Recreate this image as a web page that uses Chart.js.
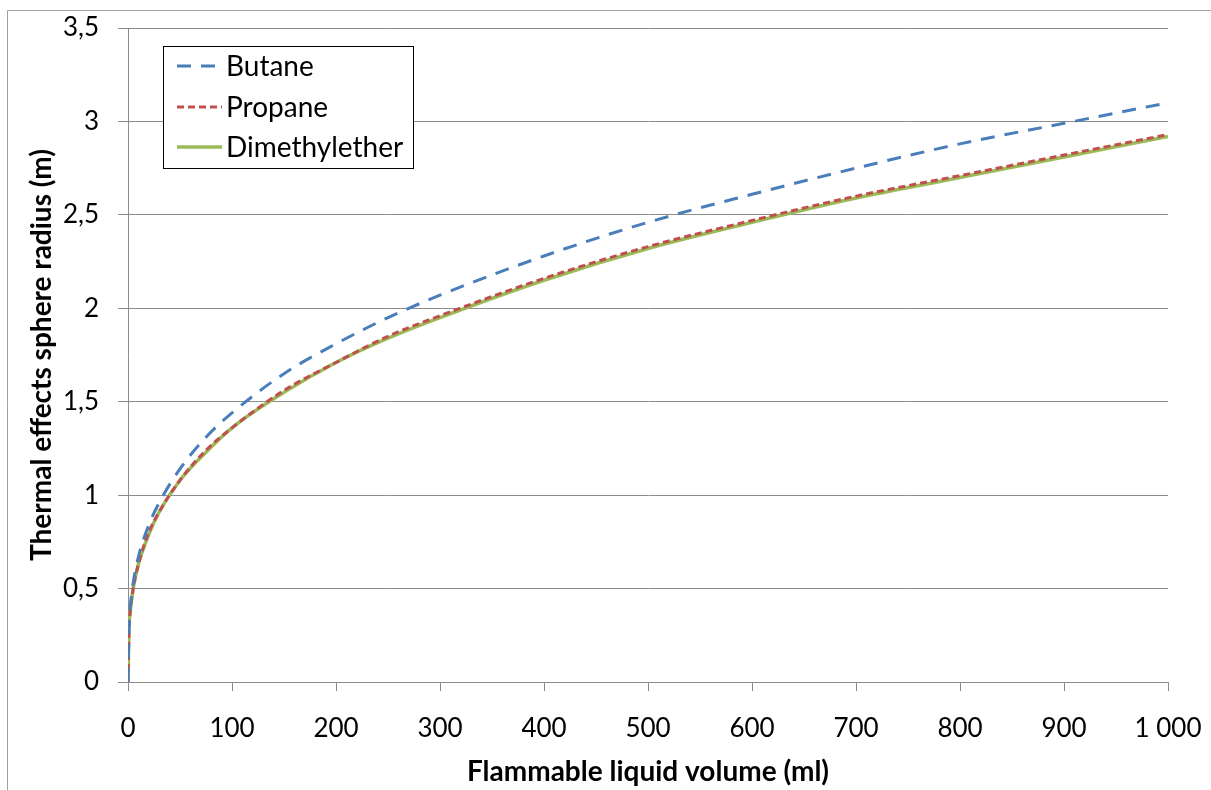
<!DOCTYPE html>
<html>
<head>
<meta charset="utf-8">
<script src="https://cdn.jsdelivr.net/npm/chart.js@4"></script>
<style>
  html, body { margin: 0; padding: 0; background: #fff; }
  #wrap { width: 1211px; height: 790px; }
</style>
</head>
<body>
<div id="wrap"><canvas id="myChart" width="1211" height="790"></canvas></div>
<script>
// volumes (ml) where the curves were read
const volumes = [0, 1, 2, 5, 10, 20, 30, 50, 75, 100, 150, 200, 250, 300, 400, 500, 600, 700, 800, 900, 1000];

// sphere radius (m)
const butane = [0, 0.31, 0.39, 0.53, 0.67, 0.84, 0.96, 1.14, 1.31, 1.44, 1.65, 1.81, 1.95, 2.07, 2.28, 2.46, 2.61, 2.75, 2.88, 2.99, 3.10];
const propane = [0, 0.29, 0.37, 0.50, 0.63, 0.80, 0.91, 1.08, 1.24, 1.36, 1.56, 1.71, 1.85, 1.96, 2.16, 2.33, 2.47, 2.60, 2.71, 2.82, 2.93];
const dimethylether = [0, 0.29, 0.37, 0.50, 0.63, 0.79, 0.91, 1.08, 1.23, 1.36, 1.55, 1.71, 1.84, 1.95, 2.15, 2.32, 2.46, 2.59, 2.70, 2.81, 2.92];

const seriesNames = ['Butane', 'Propane', 'Dimethylether'];
const xTickLabels = ['0', '100', '200', '300', '400', '500', '600', '700', '800', '900', '1 000'];
const yTickLabels = ['0', '0,5', '1', '1,5', '2', '2,5', '3', '3,5'];

const FONT = 'Lato, "DejaVu Sans", sans-serif';
const gridColor = '#8c8c8c';

const toPoints = ys => volumes.map((v, i) => ({ x: v, y: ys[i] }));

// legend box drawn inside the plot, like the original
const boxLegend = {
    id: 'boxLegend',
    afterDraw(chart) {
        const ctx = chart.ctx;
        ctx.save();
        // outer frame of the chart
        ctx.strokeStyle = '#a0a0a0';
        ctx.lineWidth = 1;
        ctx.beginPath();
        ctx.moveTo(7.5, 790);
        ctx.lineTo(7.5, 10.5);
        ctx.lineTo(1211, 10.5);
        ctx.stroke();

        ctx.fillStyle = '#fff';
        ctx.fillRect(163.5, 46.5, 250, 122);
        ctx.strokeStyle = '#000';
        ctx.strokeRect(163.5, 46.5, 250, 122);

        ctx.font = '28px ' + FONT;
        ctx.textBaseline = 'middle';
        const rows = [66, 107, 147];
        chart.data.datasets.forEach((ds, i) => {
            ctx.strokeStyle = ds.borderColor;
            ctx.lineWidth = ds.borderWidth;
            ctx.setLineDash(ds.borderDash || []);
            ctx.beginPath();
            ctx.moveTo(177, rows[i]);
            ctx.lineTo(222, rows[i]);
            ctx.stroke();
            ctx.setLineDash([]);
            ctx.fillStyle = '#000';
            ctx.fillText(ds.label, 226, rows[i] + 1);
        });
        ctx.restore();
    }
};

const ctx = document.getElementById('myChart');
const myChart = new Chart(ctx, { // eslint-disable-line
    type: 'line',
    data: {
        datasets: [{
            label: seriesNames[0],
            data: toPoints(butane),
            borderColor: '#4a7ebb',
            borderWidth: 3,
            borderDash: [14, 10],
            pointRadius: 0,
            cubicInterpolationMode: 'monotone'
        },
        {
            label: seriesNames[1],
            data: toPoints(propane),
            borderColor: '#c0504d',
            borderWidth: 3,
            borderDash: [7, 4],
            pointRadius: 0,
            cubicInterpolationMode: 'monotone'
        },
        {
            label: seriesNames[2],
            data: toPoints(dimethylether),
            borderColor: '#9bbb59',
            borderWidth: 3.5,
            pointRadius: 0,
            cubicInterpolationMode: 'monotone'
        }]
    },
    options: {
        responsive: false,
        animation: false,
        layout: { padding: { left: 0, top: 28, right: 43, bottom: 0 } },
        plugins: {
            legend: { display: false },
            tooltip: { enabled: false }
        },
        scales: {
            x: {
                type: 'linear',
                min: 0,
                max: 1000,
                afterFit: scale => {
                    scale.height = 108;
                    scale.paddingLeft = 0;
                    scale.paddingRight = 0;
                },
                afterBuildTicks: scale => {
                    scale.ticks = xTickLabels.map((t, i) => ({ value: i * 100 }));
                },
                ticks: {
                    callback: (v, i) => xTickLabels[i],
                    color: '#000',
                    font: { family: FONT, size: 26 },
                    padding: 22,
                    maxRotation: 0,
                    autoSkip: false
                },
                grid: {
                    drawOnChartArea: false,
                    tickLength: 9,
                    color: gridColor
                },
                border: { color: gridColor },
                title: {
                    display: true,
                    text: 'Flammable liquid volume (ml)',
                    color: '#000',
                    font: { family: FONT, size: 28, weight: 'bold' },
                    padding: { top: 0, bottom: 1 }
                }
            },
            y: {
                min: 0,
                max: 3.5,
                afterFit: scale => {
                    scale.width = 128;
                    scale.paddingTop = 0;
                    scale.paddingBottom = 0;
                },
                afterBuildTicks: scale => {
                    scale.ticks = yTickLabels.map((t, i) => ({ value: i * 0.5 }));
                },
                ticks: {
                    callback: (v, i) => yTickLabels[i],
                    color: '#000',
                    font: { family: FONT, size: 26 },
                    padding: 19
                },
                grid: {
                    color: gridColor,
                    tickLength: 10
                },
                border: { color: gridColor },
                title: {
                    display: true,
                    text: 'Thermal effects sphere radius (m)',
                    color: '#000',
                    font: { family: FONT, size: 28, weight: 'bold' },
                    padding: { top: 25, bottom: 0 }
                }
            }
        }
    },
    plugins: [boxLegend]
});
</script>
</body>
</html>
